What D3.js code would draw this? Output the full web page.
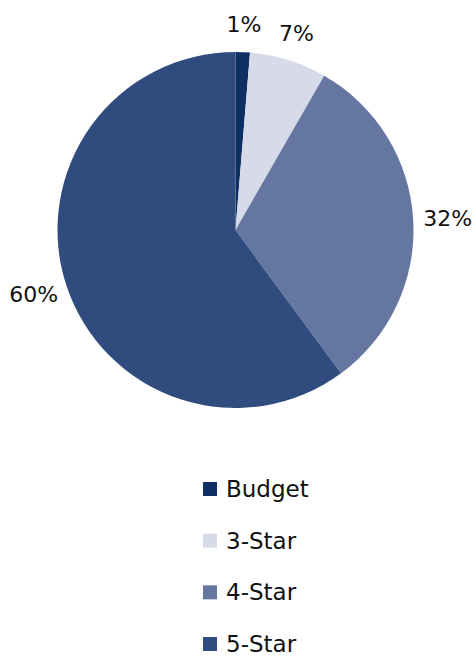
<!DOCTYPE html>
<html>
<head>
<meta charset="utf-8">
<script src="https://cdn.jsdelivr.net/npm/d3@7"></script>
<style>
  body { margin: 0; background: #fff; }
  text { font-family: "DejaVu Sans", sans-serif; fill: #111; }
</style>
</head>
<body>
<div id="chart"></div>
<script>
// data
let categories = ["Budget", "3-Star", "4-Star", "5-Star"];
let shares = [1.3, 7.0, 31.6, 60.1];
let labels = ["1%", "7%", "32%", "60%"];
let colours = ["#0e2f63", "#d7dbe9", "#6577a1", "#304c7e"];

let width = 476, height = 657;
let cx = 235.5, cy = 230, radius = 178;

let svg = d3.select("#chart").append("svg")
    .attr("width", width)
    .attr("height", height);

let data = categories.map((c, i) => ({ name: c, value: shares[i], label: labels[i], colour: colours[i] }));

let pie = d3.pie().sort(null).value(d => d.value);
let arc = d3.arc().innerRadius(0).outerRadius(radius);

let pieGroup = svg.append("g")
    .attr("transform", "translate(" + cx + "," + cy + ")");

let slices = pie(data);

pieGroup.selectAll("path")
    .data(slices)
    .join("path")
    .attr("d", arc)
    .attr("fill", d => d.data.colour);

// labels outside the end of each slice
let labelGap = 10, fontSize = 22;
pieGroup.selectAll("text.pct")
    .data(slices)
    .join("text")
    .attr("class", "pct")
    .attr("font-size", fontSize)
    .attr("text-anchor", "middle")
    .attr("dominant-baseline", "central")
    .text(d => d.data.label)
    .each(function (d) {
        let a = (d.startAngle + d.endAngle) / 2;
        let w = this.getComputedTextLength();
        let s = Math.sin(a), c = -Math.cos(a);
        let x = (radius + labelGap) * s + (w / 2) * s;
        let y = (radius + labelGap) * c + (fontSize * 0.8) * c;
        d3.select(this).attr("x", x).attr("y", y);
    });

// legend, y = text baseline of each row
let legendY = d3.scalePoint().domain(categories).range([497, 652]);

let legend = svg.append("g").attr("class", "legend");

legend.selectAll("rect")
    .data(data)
    .join("rect")
    .attr("x", 203)
    .attr("y", d => legendY(d.name) - 15)
    .attr("width", 14)
    .attr("height", 14)
    .attr("fill", d => d.colour);

legend.selectAll("text")
    .data(data)
    .join("text")
    .attr("x", 226)
    .attr("y", d => legendY(d.name))
    .attr("font-size", 23)
    .text(d => d.name);
</script>
</body>
</html>
